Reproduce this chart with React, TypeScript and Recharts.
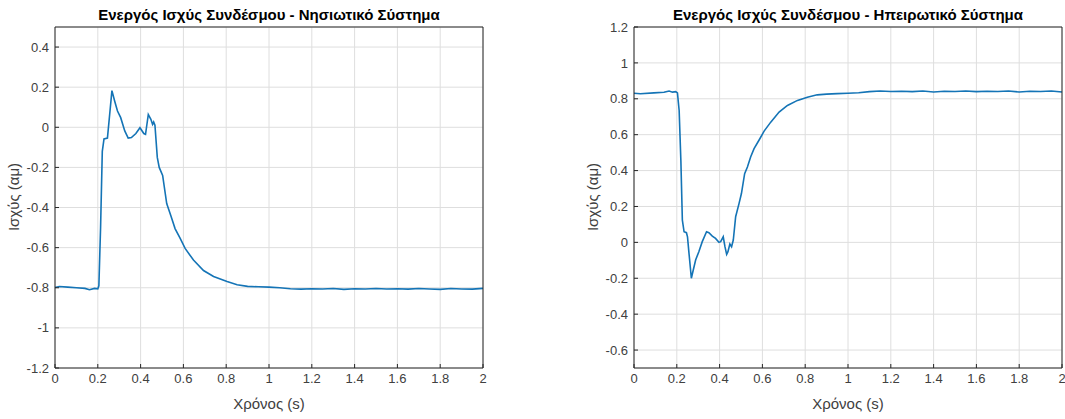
import React from "react";
import { LineChart, Line, XAxis, YAxis, CartesianGrid } from "recharts";

// island system (left)
const islandTime = [
  0, 0.02, 0.06, 0.1, 0.14, 0.161, 0.185, 0.2, 0.205, 0.213, 0.221, 0.229, 0.245, 0.256, 0.266,
  0.279, 0.292, 0.307, 0.326, 0.342, 0.357, 0.378, 0.397, 0.415, 0.423, 0.436, 0.448, 0.456,
  0.461, 0.467, 0.478, 0.487, 0.503, 0.522, 0.541, 0.561, 0.585, 0.608, 0.647, 0.694, 0.741,
  0.804, 0.851, 0.9, 0.95, 1.0, 1.05, 1.1, 1.15, 1.2, 1.25, 1.3, 1.35, 1.4, 1.45, 1.5, 1.55,
  1.6, 1.65, 1.7, 1.75, 1.8, 1.85, 1.9, 1.95, 2.0,
];
const islandPower = [
  -0.799, -0.794, -0.797, -0.8, -0.803, -0.81, -0.803, -0.805, -0.79, -0.5, -0.12, -0.058, -0.054,
  0.07, 0.183, 0.13, 0.081, 0.048, -0.018, -0.054, -0.051, -0.031, -0.002, -0.031, -0.035, 0.064,
  0.04, 0.015, 0.026, 0.01, -0.15, -0.2, -0.24, -0.38, -0.44, -0.505, -0.554, -0.604, -0.662,
  -0.714, -0.744, -0.769, -0.785, -0.793, -0.795, -0.797, -0.8, -0.805, -0.807, -0.805, -0.806,
  -0.804, -0.808, -0.805, -0.806, -0.804, -0.806, -0.805, -0.807, -0.804, -0.806, -0.808, -0.804,
  -0.806, -0.807, -0.803,
];

// mainland system (right)
const mainlandTime = [
  0, 0.03, 0.093, 0.14, 0.164, 0.18, 0.195, 0.203, 0.211, 0.219, 0.226, 0.234, 0.245, 0.25, 0.257,
  0.268, 0.277, 0.288, 0.303, 0.319, 0.339, 0.35, 0.366, 0.381, 0.397, 0.405, 0.417, 0.425, 0.433,
  0.439, 0.448, 0.456, 0.464, 0.475, 0.491, 0.502, 0.517, 0.53, 0.545, 0.561, 0.584, 0.608, 0.639,
  0.678, 0.717, 0.764, 0.81, 0.856, 0.9, 0.95, 1.0, 1.05, 1.1, 1.15, 1.2, 1.25, 1.3, 1.35, 1.4,
  1.45, 1.5, 1.55, 1.6, 1.65, 1.7, 1.75, 1.8, 1.85, 1.9, 1.95, 2.0,
];
const mainlandPower = [
  0.831, 0.828, 0.833, 0.836, 0.843, 0.837, 0.84, 0.833, 0.735, 0.457, 0.124, 0.059, 0.054, 0.031,
  -0.061, -0.2, -0.154, -0.098, -0.052, 0.004, 0.059, 0.054, 0.035, 0.022, 0.0, 0.004, 0.031,
  -0.024, -0.067, -0.052, -0.009, -0.024, 0.013, 0.143, 0.217, 0.272, 0.383, 0.42, 0.476, 0.522,
  0.569, 0.62, 0.67, 0.726, 0.763, 0.791, 0.809, 0.822, 0.826, 0.829, 0.831, 0.834, 0.84, 0.843,
  0.841, 0.842, 0.84, 0.843, 0.838, 0.842, 0.841, 0.843, 0.84, 0.842, 0.841, 0.843, 0.838, 0.842,
  0.841, 0.843, 0.838,
];

const xTicks = [0, 0.2, 0.4, 0.6, 0.8, 1, 1.2, 1.4, 1.6, 1.8, 2];
const islandTicks = [-1.2, -1, -0.8, -0.6, -0.4, -0.2, 0, 0.2, 0.4];
const mainlandTicks = [-0.6, -0.4, -0.2, 0, 0.2, 0.4, 0.6, 0.8, 1, 1.2];

const FONT = '"Liberation Sans", Arial, sans-serif';
const AXIS = "#262626";
const LINE = "#1474b6";

const fmt = (v: number) => String(Number(v.toFixed(1)));

function Panel({ title, time, power, yTicks, yDomain, left, yWidth, rightMargin, width }: any) {
  const data = time.map((t: number, i: number) => ({ t, p: power[i] }));
  const tickStyle = { fill: "#404040", fontSize: 13, fontFamily: FONT };
  const plotW = width - yWidth - 1 - rightMargin;
  return (
    <div style={{ position: "absolute", left, top: 0, width, height: 419 }}>
      <LineChart width={width} height={419} data={data} margin={{ top: 26, right: rightMargin, left: 0, bottom: 0 }}>
        <CartesianGrid stroke="#dedede" strokeWidth={1} />
        <XAxis
          dataKey="t" type="number" domain={[0, 2]} ticks={xTicks} tickFormatter={fmt} height={51}
          stroke={AXIS} tickSize={-4} tickMargin={10} tick={tickStyle} interval={0} />
        <XAxis xAxisId="top" orientation="top" dataKey="t" type="number" domain={[0, 2]} ticks={xTicks}
          height={1} stroke={AXIS} tickSize={-4} tick={false} />
        <YAxis
          type="number" domain={yDomain} ticks={yTicks} tickFormatter={fmt} width={yWidth}
          stroke={AXIS} tickSize={-4} tickMargin={10} tick={tickStyle} interval={0} allowDataOverflow />
        <YAxis yAxisId="r" orientation="right" type="number" domain={yDomain} ticks={yTicks}
          width={1} stroke={AXIS} tickSize={-4} tick={false} />
        <Line type="linear" dataKey="p" stroke={LINE} strokeWidth={1.6} dot={false} isAnimationActive={false} />
      </LineChart>
      <div style={{ position: "absolute", top: 5, left: yWidth, width: plotW, textAlign: "center",
        fontFamily: FONT, fontWeight: "bold", fontSize: 15, color: "#000", lineHeight: "19px", whiteSpace: "nowrap" }}>
        {title}
      </div>
      <div style={{ position: "absolute", top: 395, left: yWidth, width: plotW, textAlign: "center",
        fontFamily: FONT, fontSize: 15, color: "#404040", lineHeight: "18px" }}>
        Χρόνος (s)
      </div>
      <div style={{ position: "absolute", left: yWidth - 41 - 60, top: 197 - 9, width: 120, height: 18,
        textAlign: "center", transform: "rotate(-90deg)", fontFamily: FONT, fontSize: 15,
        color: "#404040", lineHeight: "18px", whiteSpace: "nowrap" }}>
        Ισχύς (αμ)
      </div>
    </div>
  );
}

export default function App() {
  return (
    <div style={{ position: "absolute", left: 0, top: 0, width: 1065, height: 419, background: "#fff" }}>
      <Panel title="Ενεργός Ισχύς Συνδέσμου - Νησιωτικό Σύστημα" time={islandTime} power={islandPower}
        yTicks={islandTicks} yDomain={[-1.2, 0.5]} left={0} yWidth={55} rightMargin={56} width={540} />
      <Panel title="Ενεργός Ισχύς Συνδέσμου - Ηπειρωτικό Σύστημα" time={mainlandTime} power={mainlandPower}
        yTicks={mainlandTicks} yDomain={[-0.7, 1.2]} left={540} yWidth={94} rightMargin={2} width={525} />
    </div>
  );
}
